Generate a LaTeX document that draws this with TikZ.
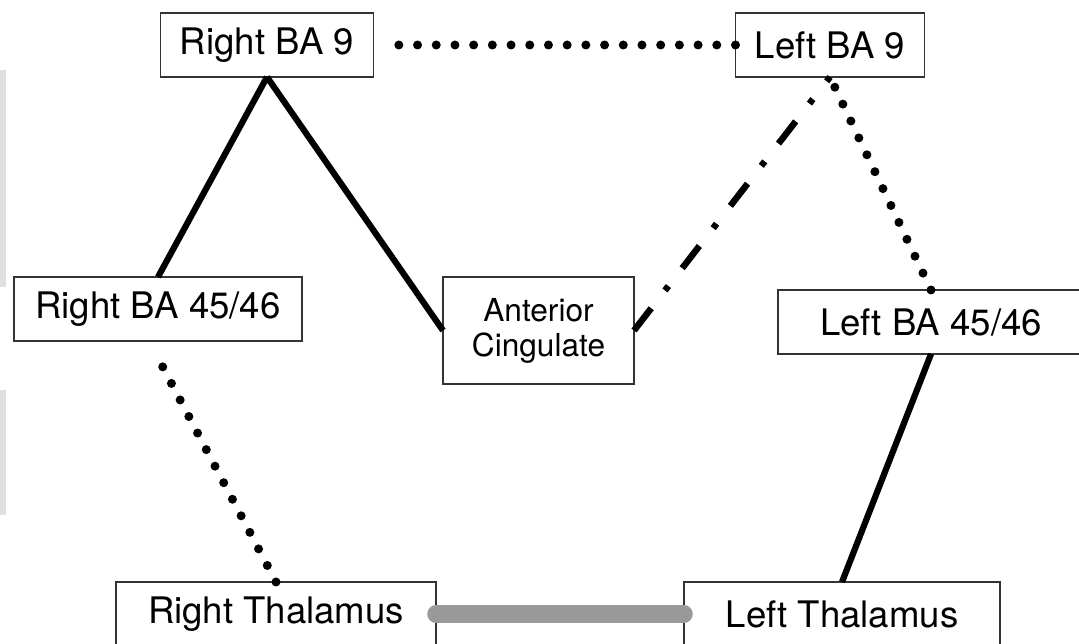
\documentclass[tikz,border=0pt]{standalone}
\usepackage{fontspec}
\setmainfont{TeX Gyre Heros}

\begin{document}
\begin{tikzpicture}[x=0.025cm, y=-0.025cm,
  area/.style={draw=black!80, line width=1.3pt, fill=white, inner sep=0pt, outer sep=0pt,
               minimum height=1.6cm, align=center, font=\fontsize{26}{30}\selectfont},
  strong/.style={line width=4.4pt},
  weak/.style={line width=6.4pt, line cap=round, dash pattern=on 0pt off 13.3pt},
  mixed/.style={line width=4.6pt, dash pattern=on 20pt off 16pt on 4pt off 16pt},
  thal/.style={line width=12.5pt, line cap=round, gray!80}]
\clip (0,0) rectangle (1079,644);
\fill[white] (0,0) rectangle (1079,644);
\fill[black!12] (0,70) rectangle (6,287);
\fill[black!12] (0,390) rectangle (6,515);

% regions
\node[area, minimum width=5.325cm] (rba9) at (267,45) {Right BA 9};
\node[area, minimum width=4.725cm] (lba9) at (830,45) {Left BA 9};
\node[area, minimum width=7.2cm] (rba45) at (158,309) {Right BA 45/46};
\node[area, minimum width=4.775cm, minimum height=2.675cm,
      font=\fontsize{22.5}{25}\selectfont] (acc) at (538.5,330.5) {Anterior\\Cingulate};
\node[area, minimum width=7.65cm] (lba45) at (931,322) {Left BA 45/46};
\node[area, minimum width=8cm] (rthal) at (276,614) {Right Thalamus};
\node[area, minimum width=7.9cm] (lthal) at (842,614) {Left Thalamus};

% connections
\draw[strong] (rba9.south) -- (rba45.north);
\draw[strong] (rba9.south) -- (acc.west);
\draw[strong] (lba45.south) -- (lthal.north);
\draw[weak] (lba9.west) -- ([xshift=8pt]rba9.east);
\draw[weak] (lba45.north) -- (lba9.south);
\draw[weak] (rthal.north) -- ([yshift=-12pt]rba45.south);
\draw[mixed] (acc.east) -- (lba9.south);
\draw[thal] (rthal.east) -- (lthal.west);
\end{tikzpicture}
\end{document}
